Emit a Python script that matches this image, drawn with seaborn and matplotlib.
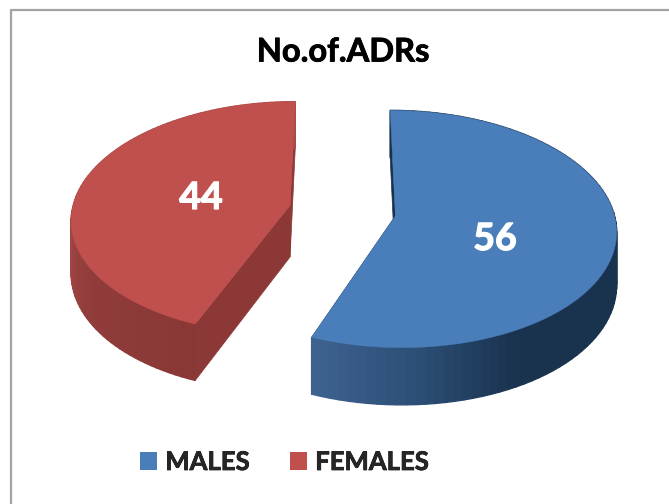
import numpy as np
import seaborn as sns
import matplotlib.pyplot as plt
import matplotlib.patheffects as pe
from matplotlib.lines import Line2D
from matplotlib.patches import Patch
from matplotlib.colors import LinearSegmentedColormap

categories = ["MALES", "FEMALES"]
adrs = [56, 44]
title = "No.of.ADRs"

top_colors = ["#4a7ebb", "#c0504d"]
# wall shading, measured along the arc from the cut at the front
side_colors = [
    [(0, "#3d628f"), (0.12, "#2c4e76"), (0.24, "#19324d"), (1, "#18324d")],
    [(0, "#8a3836"), (0.22, "#8f3c3a"), (0.44, "#a84a47"), (1, "#a84a47")],
]
cut_colors = ["#17324e", "#8b3836"]

# picture geometry of the tilted disc
CX, CY = 342.5, 210.5
RX, RY = 218, 116
TILT = 0.11

sns.set_theme(style="white")
plt.rcParams["font.family"] = ["Lato", "DejaVu Sans"]


def project(x, y):
    w = 1 + TILT * np.asarray(y)
    return CX + RX * np.asarray(x) / w, CY - RY * np.asarray(y) / w


def depth(y):
    return 52 - 5 * np.asarray(y)


fig = plt.figure(figsize=(6.69, 5.04), dpi=100, facecolor="white")

# let pie work out the angles and the explode offsets
helper = fig.add_axes([0, 0, 1, 1])
wedges, _ = helper.pie(adrs, explode=[0.246, 0.246], startangle=90, counterclock=False)
slices = [(w.center, w.theta1, w.theta2) for w in wedges]
helper.remove()

ax = fig.add_axes([0, 0, 1, 1])
ax.set_xlim(0, 669)
ax.set_ylim(504, 0)
ax.axis("off")

# chart border, left and top only
ax.add_line(Line2D([11, 11, 669], [504, 9.5, 9.5], color="#a3a3a3", lw=1.6))

# sides first, top faces over them
for i, (center, t1, t2) in enumerate(slices):
    cmap = LinearSegmentedColormap.from_list("side", side_colors[i])
    theta = np.radians(np.linspace(t1, t2, 90))
    ux = center[0] + np.cos(theta)
    uy = center[1] + np.sin(theta)
    px, py = project(ux, uy)
    dz = depth(uy)
    cx, cy = project(center[0], center[1])
    cz = depth(center[1])

    # straight cuts
    for k in (0, -1):
        ax.fill([cx, px[k], px[k], cx], [cy, py[k], py[k] + dz[k], cy + cz],
                color=cut_colors[i], lw=0.5, zorder=2)

    # curved wall, shaded along the sweep
    shade = np.linspace(0, 1, len(px)) if i == 0 else np.linspace(1, 0, len(px))
    for k in range(len(px) - 1):
        ax.fill([px[k], px[k + 1], px[k + 1], px[k]],
                [py[k], py[k + 1], py[k + 1] + dz[k + 1], py[k] + dz[k]],
                color=cmap(shade[k]), lw=1.0, zorder=3)

    ax.fill(np.r_[cx, px], np.r_[cy, py], color=top_colors[i], lw=0.3, zorder=4)

# value labels
white_bold = [pe.withStroke(linewidth=0.9, foreground="white")]
ax.text(495, 239, str(adrs[0]), color="white", fontsize=27, fontweight="bold",
        ha="center", va="center", zorder=5, path_effects=white_bold)
ax.text(201, 198, str(adrs[1]), color="white", fontsize=27, fontweight="bold",
        ha="center", va="center", zorder=5, path_effects=white_bold)

black_bold = [pe.withStroke(linewidth=0.6, foreground="black")]
ax.text(343, 52, title, color="black", fontsize=23.5, fontweight="bold",
        ha="center", va="center", path_effects=black_bold)

handles = [Patch(facecolor=c, edgecolor="none") for c in top_colors]
leg = ax.legend(handles, categories, loc="center", bbox_to_anchor=(285 / 669, 1 - 462 / 504),
                ncols=2, frameon=False, prop={"size": 18.5, "weight": "bold"},
                handlelength=0.66, handleheight=0.74, handletextpad=0.31, columnspacing=1.56)
for t in leg.get_texts():
    t.set_path_effects([pe.withStroke(linewidth=0.5, foreground="black")])

fig.savefig("out.png", dpi=100)
